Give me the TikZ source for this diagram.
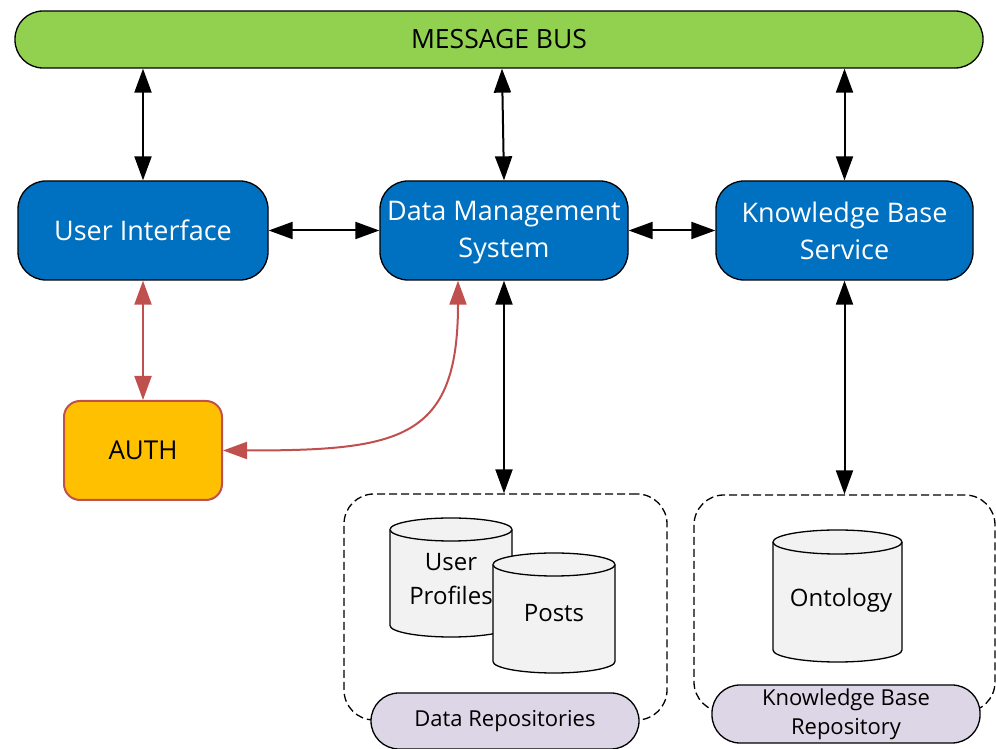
\documentclass[tikz,border=0pt]{standalone}
\usepackage{fontspec}
\setmainfont{Open Sans}
\usetikzlibrary{arrows.meta}
\definecolor{busgreen}{HTML}{92D050}
\definecolor{svcblue}{HTML}{0070C0}
\definecolor{authyellow}{HTML}{FFC000}
\definecolor{authred}{HTML}{C0504D}
\definecolor{repolilac}{HTML}{DDD6E6}
\definecolor{drumgray}{HTML}{F2F2F2}

% database drum: centre x, top ellipse y, bottom ellipse y, x radius, y radius
\newcommand\dbdrum[5]{%
  \filldraw[drum] (#1-#4,#2) -- (#1-#4,#3)
    arc[start angle=180,end angle=360,x radius=#4,y radius=#5]
    -- (#1+#4,#2)
    arc[start angle=0,end angle=180,x radius=#4,y radius=#5] -- cycle;
  \draw[drum] (#1-#4,#2) arc[start angle=180,end angle=360,x radius=#4,y radius=#5];}

\begin{document}
\begin{tikzpicture}[x=1pt,y=1pt,
  tipA/.tip={Triangle[length=24pt,width=17pt]},
  link/.style={tipA-tipA, line width=2pt, black},
  authlink/.style={tipA-tipA, line width=2pt, authred},
  busbar/.style={draw=black, line width=1.3pt, fill=busgreen, rounded corners=28pt,
    minimum width=968pt, minimum height=57pt, inner sep=0pt,
    font=\fontsize{26.5}{32}\selectfont},
  service/.style={draw=black, line width=1.3pt, fill=svcblue, rounded corners=28pt,
    minimum height=99pt, inner sep=0pt, text=white, align=center,
    font=\fontsize{27}{37}\selectfont},
  authbox/.style={draw=authred, line width=2pt, fill=authyellow, rounded corners=16pt,
    minimum width=158pt, minimum height=99pt, inner sep=0pt,
    font=\fontsize{26}{30}\selectfont},
  groupbox/.style={draw=black, line width=1.3pt, dash pattern=on 8pt off 4pt,
    rounded corners=30pt, inner sep=0pt},
  repolabel/.style={draw=black, line width=1.3pt, fill=repolilac, rounded corners=28pt,
    minimum width=268pt, inner sep=0pt, align=center,
    font=\fontsize{22}{29}\selectfont},
  drum/.style={draw=black, line width=1.3pt, fill=drumgray},
  dbtext/.style={inner sep=0pt, align=center, font=\fontsize{24}{34}\selectfont}]

\useasboundingbox (0,0) rectangle (996,749);

% message bus and services
\node[busbar] (bus) at (499,709.5) {MESSAGE BUS};
\node[service, minimum width=250pt] (ui) at (143,518.5) {User Interface};
\node[service, minimum width=248pt] (dms) at (504,518.5) {};
\node[white, align=center, inner sep=0pt, font=\fontsize{27}{37}\selectfont]
  (dmstext) at (504,516) {Data Management\\System};
\node[service, minimum width=257pt] (kbs) at (844.5,518.5) {Knowledge Base\\Service};
\node[authbox] (auth) at (143,298.5) {AUTH};

% repository groups
\node[groupbox, minimum width=323pt, minimum height=226pt] (grpdata) at (505.5,142) {};
\node[groupbox, minimum width=301pt, minimum height=217pt] (grpkb) at (844.5,145.5) {};
\node[repolabel, minimum height=56pt] (datarepo) at (505,28) {Data Repositories};
\node[repolabel, minimum height=58pt] (kbrepo) at (846,35) {Knowledge Base\\Repository};

% data stores
\dbdrum{451}{219.5}{123.5}{61}{11.5}
\node[dbtext] (profiles) at (451,170) {User\\Profiles};
\dbdrum{554}{184.5}{87.5}{61}{11.5}
\node[dbtext] (posts) at (554,136) {Posts};
\dbdrum{837.5}{207}{99}{64.5}{12}
\node[dbtext] (onto) at (841,149) {Ontology};

% connectors
\draw[link] (ui.north |- bus.south) -- (ui.north);
\draw[link] ([xshift=-2pt]dms.north |- bus.south) -- (dms.north);
\draw[link] (kbs.north |- bus.south) -- (kbs.north);
\draw[link] (ui.east) -- (dms.west);
\draw[link] (dms.east) -- (kbs.west);
\draw[link] (dms.south) -- (dms.south |- grpdata.north);
\draw[link] (kbs.south) -- (kbs.south |- grpkb.north);
\draw[authlink] (ui.south) -- (auth.north);
\draw[authlink] ([xshift=-46pt]dms.south) .. controls (458,309) and (400,298.5) .. (auth.east);

\end{tikzpicture}
\end{document}
